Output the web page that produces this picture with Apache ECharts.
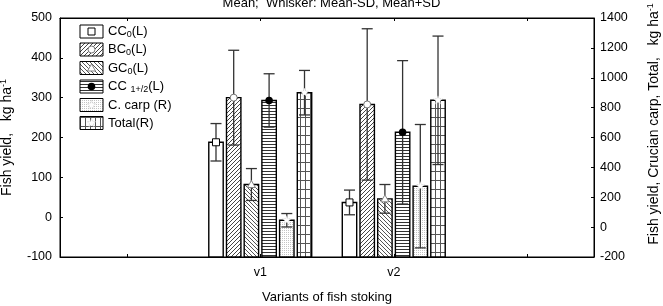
<!DOCTYPE html>
<html>
<head>
<meta charset="utf-8">
<script src="https://cdn.jsdelivr.net/npm/echarts@6/dist/echarts.min.js"></script>
<style>
html, body { margin: 0; padding: 0; background: #fff; }
#chart { width: 663px; height: 306px; }
</style>
</head>
<body>
<div id="chart"></div>
<script>
// categories on the x axis (empty slots at both ends, like the original frame)
var categories = ['', 'v1', 'v2', ''];
var variants = ['v1', 'v2'];

// means and SD, left axis (kg/ha)
var cc0Mean = [188, 37];
var cc0Sd = [47, 31];
var bc0Mean = [300, 283];
var bc0Sd = [119, 190];
var gc0Mean = [82, 46];
var gc0Sd = [40, 36];
var cc12Mean = [293, 213];
var cc12Sd = [67, 180];
// right axis
var carpMean = [46, 274];
var carpSd = [45, 413];
var totalMean = [900, 849];
var totalSd = [149, 430];

var FONT = 'Liberation Sans, Arial, sans-serif';

function makePattern(w, h, draw) {
  var c = document.createElement('canvas');
  c.width = w;
  c.height = h;
  var ctx = c.getContext('2d');
  ctx.fillStyle = '#fff';
  ctx.fillRect(0, 0, w, h);
  draw(ctx);
  return { image: c, repeat: 'repeat' };
}

var patWhite = '#fff';
var patFwd = makePattern(4, 4, function (ctx) {
  ctx.strokeStyle = '#444';
  ctx.lineWidth = 1;
  ctx.beginPath();
  ctx.moveTo(0, 4); ctx.lineTo(4, 0);
  ctx.moveTo(-1, 1); ctx.lineTo(1, -1);
  ctx.moveTo(3, 5); ctx.lineTo(5, 3);
  ctx.stroke();
});
var patBack = makePattern(4, 4, function (ctx) {
  ctx.strokeStyle = '#555';
  ctx.lineWidth = 1;
  ctx.beginPath();
  ctx.moveTo(0, 0); ctx.lineTo(4, 4);
  ctx.moveTo(3, -1); ctx.lineTo(5, 1);
  ctx.moveTo(-1, 3); ctx.lineTo(1, 5);
  ctx.stroke();
});
var patHoriz = makePattern(4, 3, function (ctx) {
  ctx.fillStyle = '#333';
  ctx.fillRect(0, 0, 4, 1);
});
var patDots = makePattern(2, 2, function (ctx) {
  ctx.fillStyle = '#c4c4c4';
  ctx.fillRect(0, 0, 1, 1);
});
var patGrid = makePattern(5, 9, function (ctx) {
  ctx.fillStyle = '#555';
  ctx.fillRect(0, 0, 5, 1);
  ctx.fillRect(0, 0, 1, 9);
});

function markerEl(kind, x, y) {
  if (kind === 'square') {
    return { type: 'rect', shape: { x: x - 3.5, y: y - 3.5, width: 7, height: 7 }, style: { fill: '#fff', stroke: '#000', lineWidth: 1 } };
  }
  if (kind === 'circle') {
    return { type: 'circle', shape: { cx: x, cy: y, r: 3.5 }, style: { fill: '#fff', stroke: '#777', lineWidth: 1 } };
  }
  if (kind === 'triangle') {
    return { type: 'polygon', shape: { points: [[x, y - 4], [x + 4, y + 3], [x - 4, y + 3]] }, style: { fill: '#fff', stroke: '#888', lineWidth: 1 } };
  }
  if (kind === 'dot') {
    return { type: 'circle', shape: { cx: x, cy: y, r: 3.8 }, style: { fill: '#000' } };
  }
  var pts = [];
  for (var i = 0; i < 10; i++) {
    var r = i % 2 ? 2 : 4.5;
    var a = -Math.PI / 2 + i * Math.PI / 5;
    pts.push([x + r * Math.cos(a), y + r * Math.sin(a)]);
  }
  return { type: 'polygon', shape: { points: pts }, style: { fill: '#fff', stroke: '#ccc', lineWidth: 0.8, lineDash: [1, 1] } };
}

var specs = [
  { name: 'CC0', mean: cc0Mean, sd: cc0Sd, axis: 0, fill: patWhite, marker: 'square', label: '{a|CC}{s|0}{a|(L)}' },
  { name: 'BC0', mean: bc0Mean, sd: bc0Sd, axis: 0, fill: patFwd, marker: 'circle', label: '{a|BC}{s|0}{a|(L)}' },
  { name: 'GC0', mean: gc0Mean, sd: gc0Sd, axis: 0, fill: patBack, marker: 'triangle', label: '{a|GC}{s|0}{a|(L)}' },
  { name: 'CC1+2', mean: cc12Mean, sd: cc12Sd, axis: 0, fill: patHoriz, marker: 'dot', label: '{a|CC }{s|1+/2}{a|(L)}' },
  { name: 'C. carp', mean: carpMean, sd: carpSd, axis: 1, fill: patDots, marker: 'star', label: '{a|C. carp (R)}' },
  { name: 'Total', mean: totalMean, sd: totalSd, axis: 1, fill: patGrid, marker: 'star', label: '{a|Total(R)}' }
];

function renderBar(k, spec) {
  return function (params, api) {
    var xi = api.value(0), m = api.value(1), sd = api.value(2);
    var band = api.size([1, 0])[0];
    var bw = band * 0.108, pitch = band * 0.1326;
    var top = api.coord([xi, m]);
    var cx = top[0] + (k - 2.5) * pitch;
    var bottom = params.coordSys.y + params.coordSys.height;
    var hi = api.coord([xi, m + sd])[1];
    var lo = api.coord([xi, m - sd])[1];
    var ws = { stroke: '#333', lineWidth: 1.3 };
    return {
      type: 'group',
      children: [
        { type: 'rect', shape: { x: cx - bw / 2, y: top[1], width: bw, height: bottom - top[1] }, style: { fill: spec.fill, stroke: '#000', lineWidth: 1.4 } },
        { type: 'line', shape: { x1: cx, y1: hi, x2: cx, y2: lo }, style: ws },
        { type: 'line', shape: { x1: cx - 5.5, y1: hi, x2: cx + 5.5, y2: hi }, style: ws },
        { type: 'line', shape: { x1: cx - 5.5, y1: lo, x2: cx + 5.5, y2: lo }, style: ws },
        markerEl(spec.marker, cx, top[1])
      ]
    };
  };
}

var series = specs.map(function (s, k) {
  return {
    name: s.name,
    type: 'custom',
    yAxisIndex: s.axis,
    encode: { x: 0, y: 1 },
    data: variants.map(function (v, i) { return [v, s.mean[i], s.sd[i]]; }),
    renderItem: renderBar(k, s),
    z: 3
  };
});

// legend drawn as graphics so the markers sit inside the pattern boxes
var legendEls = [];
var rowYs = [31.5, 49.5, 68, 86.5, 105, 123];
specs.forEach(function (s, i) {
  var y = rowYs[i];
  legendEls.push({ type: 'rect', shape: { x: 80, y: y - 6.5, width: 23, height: 13 }, style: { fill: s.fill, stroke: '#000', lineWidth: 1 } });
  legendEls.push(markerEl(s.marker, 91.5, y));
  legendEls.push({
    type: 'text', x: 108, y: y,
    style: {
      text: s.label, align: 'left', verticalAlign: 'middle', fill: '#000',
      rich: {
        a: { fontSize: 13, fontFamily: FONT, lineHeight: 16, fill: '#000' },
        s: { fontSize: 9, fontFamily: FONT, lineHeight: 10, verticalAlign: 'bottom', fill: '#000' }
      }
    }
  });
});

var axisLine = { show: true, onZero: false, lineStyle: { color: '#000', width: 1 } };
var tickStyle = { show: true, inside: true, length: 3, lineStyle: { color: '#000' } };
var labelStyle = { color: '#000', fontSize: 12.5, fontFamily: FONT, formatter: function (v) { return String(v); } };
var nameStyle = {
  color: '#000', fontSize: 14, fontFamily: FONT, lineHeight: 17,
  rich: { sup: { fontSize: 9, fontFamily: FONT, lineHeight: 9, verticalAlign: 'top', color: '#000' } }
};

var chart = echarts.init(document.getElementById('chart'), null, { renderer: 'canvas' });
chart.setOption({
  animation: false,
  backgroundColor: '#fff',
  title: {
    text: 'Mean;  Whisker: Mean-SD, Mean+SD',
    left: 'center',
    top: -8,
    textStyle: { fontSize: 13, fontWeight: 'normal', color: '#000', fontFamily: FONT }
  },
  grid: {
    left: 60, right: 69, top: 18, bottom: 49,
    outerBoundsMode: 'none', containLabel: false,
    show: true, borderColor: '#000', borderWidth: 1, backgroundColor: 'transparent'
  },
  xAxis: [
    {
      type: 'category',
      data: categories,
      axisLine: axisLine,
      axisTick: { show: true, inside: true, length: 3, alignWithLabel: true, interval: 0, lineStyle: { color: '#000' } },
      axisLabel: { color: '#000', fontSize: 12.5, fontFamily: FONT, margin: 9, interval: 0 },
      name: 'Variants of fish stoking',
      nameLocation: 'middle',
      nameGap: 34,
      nameTextStyle: { color: '#000', fontSize: 13, fontFamily: FONT }
    },
    {
      type: 'category',
      position: 'top',
      gridIndex: 0,
      data: categories,
      axisLine: { show: true, onZero: false, lineStyle: { color: '#000', width: 1 } },
      axisTick: { show: true, inside: true, length: 3, alignWithLabel: true, interval: 0, lineStyle: { color: '#000' } },
      axisLabel: { show: false }
    }
  ],
  yAxis: [
    {
      type: 'value',
      min: -100, max: 500, interval: 100,
      axisLine: axisLine,
      axisTick: tickStyle,
      axisLabel: Object.assign({ margin: 8 }, labelStyle),
      splitLine: { show: false },
      name: 'Fish yield,   kg ha{sup|-1}',
      nameLocation: 'middle',
      nameRotate: 90,
      nameGap: 42,
      nameTextStyle: nameStyle
    },
    {
      type: 'value',
      min: -200, max: 1400, interval: 200,
      axisLine: axisLine,
      axisTick: tickStyle,
      axisLabel: Object.assign({ margin: 6 }, labelStyle),
      splitLine: { show: false },
      name: 'Fish yield, Crucian carp, Total,   kg ha{sup|-1}',
      nameLocation: 'middle',
      nameRotate: 90,
      nameGap: 52,
      nameTextStyle: Object.assign({ padding: [0, 0, 0, 27] }, nameStyle)
    }
  ],
  graphic: legendEls,
  series: series
});
</script>
</body>
</html>
